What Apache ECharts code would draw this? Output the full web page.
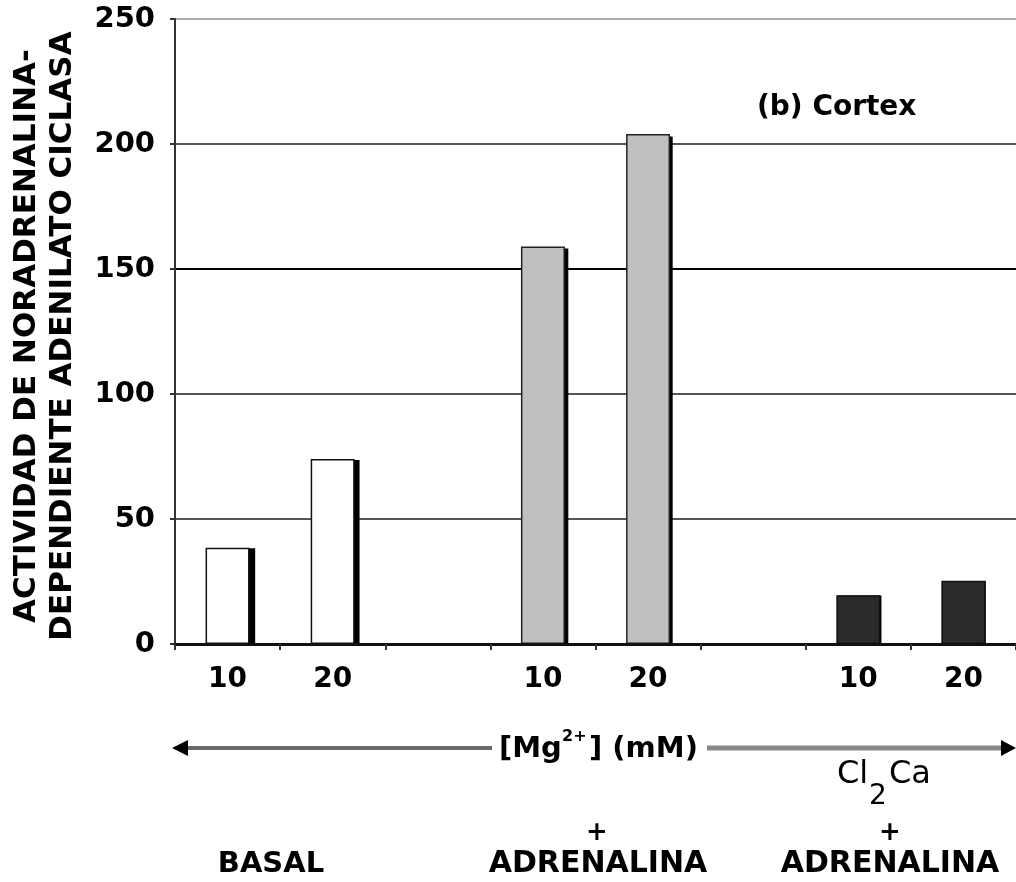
<!DOCTYPE html>
<html>
<head>
<meta charset="utf-8">
<script src="https://cdn.jsdelivr.net/npm/echarts@6/dist/echarts.min.js"></script>
<style>
  html, body { margin: 0; padding: 0; background: #ffffff; }
  #chart { width: 1016px; height: 882px; }
</style>
</head>
<body>
<div id="chart"></div>
<script>
// ---- data ----
const categories = ['10', '20', '', '10', '20', '', '10', '20'];
const basalValues = [38.5, 74];
const adrenalinaValues = [159, 204];
const cacl2AdrenalinaValues = [19.5, 25.3];
const yMin = 0, yMax = 250, yStep = 50;

function place(vals, start) {
  const d = categories.map(() => null);
  vals.forEach((v, i) => { d[start + i] = v; });
  return d;
}

const FONT = 'DejaVu Sans';
const groups = [
  { name: 'BASAL', data: place(basalValues, 0), color: '#ffffff', border: '#111' },
  { name: '+ ADRENALINA', data: place(adrenalinaValues, 3), color: '#c0c0c0', border: '#222' },
  { name: 'Cl2Ca + ADRENALINA', data: place(cacl2AdrenalinaValues, 6), color: '#2b2b2b', border: '#111' }
];

// shadow bars: same data drawn on an offset, hidden grid
const shadowSeries = groups.map(g => ({
  name: g.name + ' (sombra)', type: 'bar', xAxisIndex: 1, yAxisIndex: 1,
  barWidth: 44, barGap: '-100%', silent: true, z: 1,
  data: g.data, itemStyle: { color: '#000' }
}));
const mainSeries = groups.map(g => ({
  name: g.name, type: 'bar', xAxisIndex: 0, yAxisIndex: 0,
  barWidth: 44, barGap: '-100%', z: 3,
  data: g.data, itemStyle: { color: g.color, borderColor: g.border, borderWidth: 1.5 }
}));

const chart = echarts.init(document.getElementById('chart'), null, { renderer: 'canvas' });

const option = {
  backgroundColor: '#ffffff',
  animation: false,
  grid: [
    { left: 175, top: 19, width: 848, height: 625, containLabel: false },
    { left: 181, top: 22, width: 848, height: 622, containLabel: false }
  ],
  xAxis: [
    {
      type: 'category', gridIndex: 0,
      data: categories,
      boundaryGap: true, z: 4,
      axisLine: { show: true, lineStyle: { color: '#111', width: 3 } },
      axisTick: { show: true, interval: 0, length: 6, lineStyle: { color: '#333', width: 2 } },
      axisLabel: { interval: 0, margin: 22, color: '#000', fontFamily: FONT, fontWeight: 'bold', fontSize: 28 },
      splitLine: { show: false }
    },
    {
      type: 'category', gridIndex: 1, data: categories, boundaryGap: true, show: false
    }
  ],
  yAxis: [
    {
      type: 'value', gridIndex: 0,
      min: yMin, max: yMax, interval: yStep,
      axisLine: { show: true, lineStyle: { color: '#333', width: 2 } },
      axisTick: { show: true, length: 5, lineStyle: { color: '#333', width: 2 } },
      axisLabel: { margin: 20, color: '#000', fontFamily: FONT, fontWeight: 'bold', fontSize: 29 },
      splitLine: { show: true, lineStyle: { color: ['#000', '#555', '#555', '#000', '#555', '#aaa'], width: 2 } }
    },
    {
      type: 'value', gridIndex: 1, min: yMin, max: yMax, interval: yStep, show: false,
      splitLine: { show: false }
    }
  ],
  series: shadowSeries.concat(mainSeries),
  graphic: [
    // y-axis title
    {
      type: 'text', x: 45, y: 336, rotation: Math.PI / 2,
      style: {
        text: 'ACTIVIDAD DE NORADRENALINA-\nDEPENDIENTE ADENILATO CICLASA',
        align: 'center', verticalAlign: 'middle', lineHeight: 36,
        fill: '#000', font: 'bold 31px "DejaVu Sans"'
      }
    },
    // panel label
    {
      type: 'text', x: 757, y: 108,
      style: { text: '(b) Cortex', align: 'left', verticalAlign: 'middle', fill: '#000', font: 'bold 28px "DejaVu Sans"' }
    },
    // arrow lines
    { type: 'line', shape: { x1: 186, y1: 748, x2: 492, y2: 748 }, style: { stroke: '#6a6a6a', lineWidth: 4 } },
    { type: 'polygon', shape: { points: [[172, 748], [188, 740], [188, 756]] }, style: { fill: '#000' } },
    { type: 'line', shape: { x1: 707, y1: 748, x2: 1004, y2: 748 }, style: { stroke: '#888', lineWidth: 5 } },
    { type: 'polygon', shape: { points: [[1016, 748], [1001, 740], [1001, 756]] }, style: { fill: '#000' } },
    // [Mg2+] (mM)
    { type: 'text', x: 499, y: 749, style: { text: '[Mg', align: 'left', verticalAlign: 'middle', fill: '#000', font: 'bold 29px "DejaVu Sans"' } },
    { type: 'text', x: 562, y: 737, style: { text: '2+', align: 'left', verticalAlign: 'middle', fill: '#000', font: 'bold 16px "DejaVu Sans"' } },
    { type: 'text', x: 589, y: 749, style: { text: '] (mM)', align: 'left', verticalAlign: 'middle', fill: '#000', font: 'bold 29px "DejaVu Sans"' } },
    // Cl2Ca
    { type: 'text', x: 837, y: 775, style: { text: 'Cl', align: 'left', verticalAlign: 'middle', fill: '#000', font: '32px "DejaVu Sans"' } },
    { type: 'text', x: 869, y: 797, style: { text: '2', align: 'left', verticalAlign: 'middle', fill: '#000', font: '28px "DejaVu Sans"' } },
    { type: 'text', x: 889, y: 775, style: { text: 'Ca', align: 'left', verticalAlign: 'middle', fill: '#000', font: '32px "DejaVu Sans"' } },
    // plus signs
    { type: 'text', x: 597, y: 833, style: { text: '+', align: 'center', verticalAlign: 'middle', fill: '#000', font: 'bold 26px "DejaVu Sans"' } },
    { type: 'text', x: 890, y: 833, style: { text: '+', align: 'center', verticalAlign: 'middle', fill: '#000', font: 'bold 26px "DejaVu Sans"' } },
    // group labels
    { type: 'text', x: 271, y: 864, style: { text: 'BASAL', align: 'center', verticalAlign: 'middle', fill: '#000', font: 'bold 29px "DejaVu Sans"' } },
    { type: 'text', x: 598, y: 864, style: { text: 'ADRENALINA', align: 'center', verticalAlign: 'middle', fill: '#000', font: 'bold 30px "DejaVu Sans"' } },
    { type: 'text', x: 890, y: 864, style: { text: 'ADRENALINA', align: 'center', verticalAlign: 'middle', fill: '#000', font: 'bold 30px "DejaVu Sans"' } }
  ]
};

chart.setOption(option);
</script>
</body>
</html>
